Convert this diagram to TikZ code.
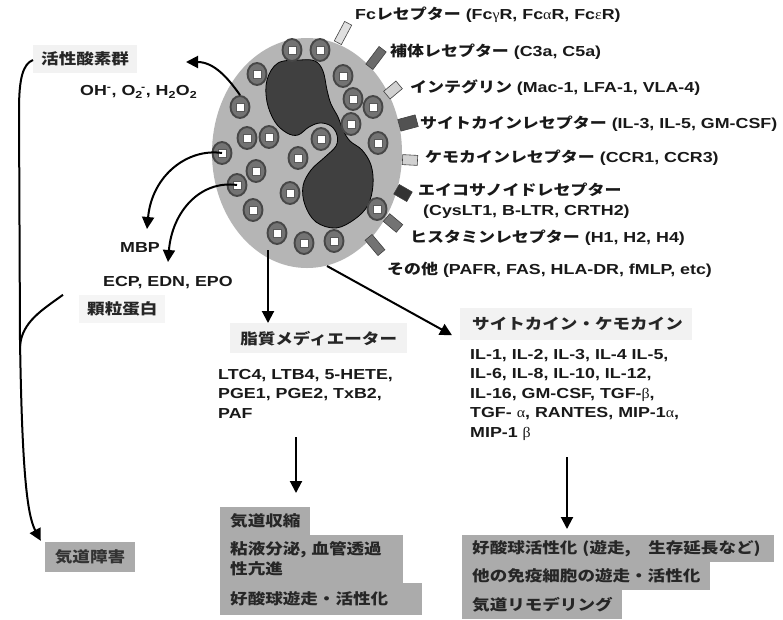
\documentclass[tikz,border=0pt]{standalone}
\usepackage{fontspec}
\setmainfont{Liberation Sans}[FakeStretch=1.23]
\newfontfamily\jp{Noto Sans CJK JP}[FakeStretch=1.17]
\newfontfamily\grk{Liberation Serif}[FakeStretch=1.1]
\usetikzlibrary{shapes.geometric,arrows.meta}

\tikzset{
  txt/.style={font=\bfseries\fontsize{14.5}{19.5}\selectfont, inner sep=0pt,
              anchor=west, align=left, text=black!90},
  lbox/.style={fill=black!5, inner xsep=8pt, inner ysep=0pt, minimum height=28pt,
               font=\jp\bfseries\fontsize{15}{20}\selectfont, text=black!85},
  eff/.style={fill=black!33, anchor=north west, inner xsep=10pt, inner ysep=0pt,
              align=left, font=\jp\bfseries\fontsize{15}{20}\selectfont, text=black!85},
  arr/.style={line width=2pt, -{Triangle[length=12pt,width=12pt]}},
  plain/.style={line width=2pt},
  cellbody/.style={ellipse, fill=black!29, minimum width=190pt, minimum height=230pt, inner sep=0pt},
  granule/.style={ellipse, minimum width=19pt, minimum height=22pt, inner sep=0pt,
    draw=black!72, line width=1.9pt, fill=black!55,
    path picture={\draw[fill=white, draw=black!65, line width=0.9pt]
      ([shift={(-4pt,-4pt)}]path picture bounding box.center) rectangle
      ([shift={(4pt,4pt)}]path picture bounding box.center);}},
  rcp/.style={rectangle, draw=black!75, line width=0.6pt, inner sep=0pt},
}

\begin{document}
\begin{tikzpicture}[x=1pt,y=-1pt]
\useasboundingbox (0,0) rectangle (783,619);
\fill[white] (0,0) rectangle (783,619);

% ---- eosinophil ----
\node[cellbody] (cell) at (307,153) {};

% receptors on the membrane
\node[rcp, fill=black!12, minimum width=8pt,  minimum height=22pt, rotate=-28] (r1) at (343,33) {};
\node[rcp, fill=black!58, minimum width=9pt,  minimum height=22pt, rotate=-37] (r2) at (376,58) {};
\node[rcp, fill=black!18, minimum width=16pt, minimum height=10pt, rotate=40]  (r3) at (393,90) {};
\node[rcp, fill=black!68, minimum width=18pt, minimum height=12pt, rotate=15]  (r4) at (408,123) {};
\node[rcp, fill=black!18, minimum width=15pt, minimum height=10pt, rotate=-3]  (r5) at (410,160) {};
\node[rcp, fill=black!80, minimum width=15pt, minimum height=11pt, rotate=-30] (r6) at (403,193) {};
\node[rcp, fill=black!55, minimum width=17pt, minimum height=10pt, rotate=-40] (r7) at (393,223) {};
\node[rcp, fill=black!55, minimum width=20pt, minimum height=9pt,  rotate=-50] (r8) at (375,245) {};

% bilobed nucleus
\draw[fill=black!75, draw=black, line width=0.8pt] plot[smooth cycle, tension=0.6] coordinates {
  (278,63) (300,60) (315,61) (323,71) (327,90) (331,104) (338,117) (343,130)
  (350,141) (362,150) (371,165) (373,185) (368,205) (355,219) (336,228) (316,222)
  (305,205) (303,186) (311,170) (325,157) (336,146) (337,135) (331,126) (320,123)
  (309,127) (298,135) (287,133) (275,122) (267,102) (267,80)};

% granules
\foreach \i/\x/\y in {1/292/50, 2/320/50, 3/257/74, 4/343/76, 5/240/107, 6/353/99,
    7/373/107, 8/351/124, 9/247/138, 10/269/137, 11/321/139, 12/378/143,
    13/222/153, 14/298/158, 15/256/171, 16/237/185, 17/290/193, 18/253/210,
    19/377/209, 20/277/233, 21/304/243, 22/334/241}
  \node[granule] (g\i) at (\x,\y) {};

% ---- receptor labels ----
\node[txt] (rt1) at (355,15)  {Fc{\jp レセプター} (Fc{\grk\mdseries γ}R, Fc{\grk\mdseries α}R, Fc{\grk\mdseries ε}R)};
\node[txt] (rt2) at (390,52)  {{\jp 補体レセプター} (C3a, C5a)};
\node[txt] (rt3) at (410,88)  {{\jp インテグリン} (Mac-1, LFA-1, VLA-4)};
\node[txt] (rt4) at (420,124) {{\jp サイトカインレセプター} (IL-3, IL-5, GM-CSF)};
\node[txt] (rt5) at (425,158) {{\jp ケモカインレセプター} (CCR1, CCR3)};
\node[txt] (rt6) at (418,190) {{\jp エイコサノイドレセプター}};
\node[txt] (rt6b) at (423,212) {(CysLT1, B-LTR, CRTH2)};
\node[txt] (rt7) at (410,238) {{\jp ヒスタミンレセプター} (H1, H2, H4)};
\node[txt] (rt8) at (387,270) {{\jp その他} (PAFR, FAS, HLA-DR, fMLP, etc)};

% ---- granule products ----
\node[lbox, anchor=west] (ros) at (33,59) {活性酸素群};
\node[txt] (rosl) at (80,92) {OH\textsuperscript{-}, O\textsubscript{2}\kern-0.12em\textsuperscript{-}, H\textsubscript{2}O\textsubscript{2}};
\node[txt] (mbp) at (120,248) {MBP};
\node[txt] (ecp) at (103,283) {ECP, EDN, EPO};
\node[lbox, anchor=west, fill=black!4] (gran) at (79,309) {顆粒蛋白};

\coordinate (rostip) at (186,62);
\coordinate (mbptip) at (147,229);
\coordinate (ecptip) at (168,262);
\draw[arr] (g5.north) .. controls (228,78) and (214,62) .. (rostip);
\draw[arr] (g13.center) .. controls (188,148) and (152,175) .. (mbptip);
\draw[arr] (g16.center) .. controls (200,180) and (172,212) .. (ecptip);

% ---- airway damage ----
\node[fill=black!33, minimum width=90pt, minimum height=30pt, inner sep=0pt,
      font=\jp\bfseries\fontsize{15}{20}\selectfont, text=black!80] (airway) at (90,557) {気道障害};
\draw[arr] ([shift={(0,1)}]ros.west) .. controls (23,64) and (19,78) .. (19,110)
      -- (20,340) .. controls (22,470) and (27,515) .. ([shift={(-4,-1)}]airway.north west);
\coordinate (granfoot) at (20,346);
\draw[plain] ([xshift=-16pt]gran.north west) .. controls (42,310) and (22,322) .. (granfoot);

% ---- lipid mediators ----
\coordinate (lipstart) at (268,250);
\node[lbox, anchor=north west, minimum width=177pt, minimum height=30pt] (lip) at (230,323) {脂質メディエーター};
\draw[arr] (lipstart) -- (lipstart |- lip.north);
\node[txt, anchor=north west] (lipl) at (218,369) {LTC4, LTB4, 5-HETE,\\PGE1, PGE2, TxB2,\\PAF};
\coordinate (lipa) at (296,437);
\coordinate (lipb) at (296,493);
\draw[arr] (lipa) -- (lipb);
\node[eff, text width=70pt,  minimum height=28pt] (e1) at (220,507) {気道収縮};
\node[eff, text width=163pt, minimum height=48pt] (e2) at (220,535) {粘液分泌, 血管透過\\性亢進};
\node[eff, text width=182pt, minimum height=32pt] (e3) at (220,583) {好酸球遊走・活性化};

% ---- cytokines / chemokines ----
\coordinate (cytstart) at (327,266);
\node[lbox, anchor=north west, minimum width=232pt, minimum height=32pt, inner xsep=12pt,
      text width=208pt] (cyt) at (460,308) {サイトカイン・ケモカイン};
\draw[arr] (cytstart) -- ([shift={(-8,11)}]cyt.west);
\node[txt, anchor=north west] (cytl) at (470,349) {IL-1, IL-2, IL-3, IL-4 IL-5,\\IL-6, IL-8, IL-10, IL-12,\\IL-16, GM-CSF, TGF-{\grk\mdseries β},\\TGF- {\grk\mdseries α}, RANTES, MIP-1{\grk\mdseries α},\\MIP-1 {\grk\mdseries β}};
\coordinate (cyta) at (567,457);
\coordinate (cytb) at (567,529);
\draw[arr] (cyta) -- (cytb);
\node[eff, text width=292pt, minimum height=27pt] (c1) at (462,535) {好酸球活性化 (遊走,　生存延長など)};
\node[eff, text width=228pt, minimum height=28pt] (c2) at (462,562) {他の免疫細胞の遊走・活性化};
\node[eff, text width=140pt, minimum height=29pt] (c3) at (462,590) {気道リモデリング};
\end{tikzpicture}
\end{document}
